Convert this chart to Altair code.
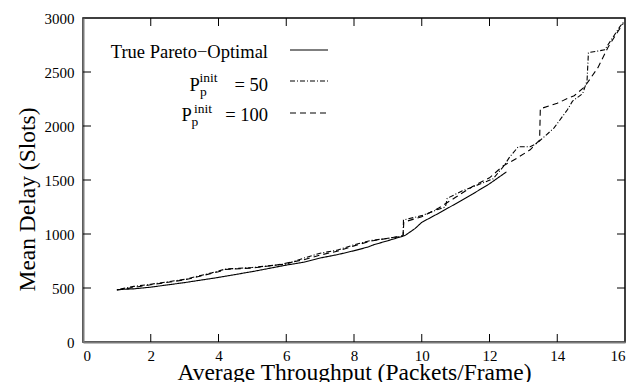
import altair as alt
import pandas as pd

# ---- data ----
series_names = ["True Pareto-Optimal", "P50", "P100"]

x_true = [1.0, 1.5, 2.0, 3.0, 4.0, 5.0, 6.0, 6.5, 7.0, 7.5, 8.0, 8.4, 8.6, 9.0,
          9.5, 9.8, 10.0, 10.5, 11.0, 11.5, 12.0, 12.5]
y_true = [485, 492, 508, 550, 598, 652, 712, 738, 778, 808, 845, 878, 902, 938,
          985, 1050, 1108, 1192, 1280, 1370, 1465, 1575]

x_p50 = [1.1, 1.5, 2.0, 3.0, 3.8, 4.2, 5.0, 6.0, 6.5, 7.0, 7.5, 8.0, 8.5, 9.0,
         9.45, 9.46, 10.0, 10.5, 10.7, 10.75, 11.2, 11.7, 12.1, 12.4, 12.6, 12.85,
         13.2, 13.4, 13.9, 14.3, 14.45, 14.75, 14.88, 14.92, 15.4, 15.85, 15.95]
y_p50 = [490, 515, 535, 580, 640, 675, 690, 722, 775, 822, 850, 900, 940, 960,
         980, 1130, 1170, 1230, 1250, 1330, 1400, 1460, 1510, 1620, 1715, 1808,
         1808, 1840, 1980, 2150, 2230, 2300, 2420, 2680, 2705, 2920, 2960]

x_p100 = [1.0, 1.5, 2.0, 3.0, 4.0, 4.2, 5.0, 5.7, 6.5, 7.0, 7.5, 8.0, 8.5, 9.0,
          9.45, 9.47, 10.0, 10.5, 11.0, 11.5, 12.0, 12.4, 12.8, 13.2, 13.48, 13.5,
          14.0, 14.3, 14.5, 14.8, 15.2, 15.5, 15.8, 15.95]
y_p100 = [480, 505, 530, 575, 650, 672, 685, 712, 760, 805, 840, 890, 935, 960,
          985, 1110, 1160, 1240, 1340, 1440, 1520, 1630, 1700, 1780, 1870, 2160,
          2210, 2255, 2280, 2360, 2540, 2730, 2880, 2950]

x_ticks = [0, 2, 4, 6, 8, 10, 12, 14, 16]
y_ticks = [0, 500, 1000, 1500, 2000, 2500, 3000]

rows = []
for name, xs_, ys_ in [(series_names[0], x_true, y_true),
                       (series_names[1], x_p50, y_p50),
                       (series_names[2], x_p100, y_p100)]:
    for i, (a, b) in enumerate(zip(xs_, ys_)):
        rows.append({"series": name, "x": a, "y": b, "i": i})
df = pd.DataFrame(rows)

W, H = 542, 324
FONT = "Liberation Serif"
AX = "#7a7a7a"

xs = alt.Scale(domain=[0, 16], nice=False, zero=False)
ys = alt.Scale(domain=[0, 3000], nice=False)
dash_range = [[1, 0], [5, 2, 1, 2], [6, 4]]

x_axis = alt.Axis(
    values=x_ticks, format="d", labelPadding=6,
    title="Average Throughput (Packets/Frame)", titleY=37)
y_axis = alt.Axis(
    values=y_ticks, format="d", labelPadding=9,
    title="Mean Delay (Slots)", titleX=-49, titleY=181)

lines = alt.Chart(df).mark_line(color="black", strokeWidth=1.1).encode(
    x=alt.X("x:Q", scale=xs, axis=x_axis),
    y=alt.Y("y:Q", scale=ys, axis=y_axis),
    strokeDash=alt.StrokeDash("series:N", scale=alt.Scale(domain=series_names, range=dash_range),
                              legend=None),
    detail="series:N",
    order="i:Q",
)

xt = pd.DataFrame({"v": x_ticks[1:-1]})
yt = pd.DataFrame({"v": y_ticks[1:-1]})
tick_x_bottom = alt.Chart(xt).mark_rule(color="black").encode(
    x=alt.X("v:Q", scale=xs, axis=x_axis), y=alt.value(H), y2=alt.value(H - 8))
tick_x_top = alt.Chart(xt).mark_rule(color="black").encode(
    x=alt.X("v:Q", scale=xs, axis=x_axis), y=alt.value(0), y2=alt.value(8))
tick_y_left = alt.Chart(yt).mark_rule(color="black").encode(
    y=alt.Y("v:Q", scale=ys, axis=y_axis), x=alt.value(0), x2=alt.value(8))
tick_y_right = alt.Chart(yt).mark_rule(color="black").encode(
    y=alt.Y("v:Q", scale=ys, axis=y_axis), x=alt.value(W - 8), x2=alt.value(W))

one = pd.DataFrame({"a": [0]})


def txt(s, x, y, size=18.5, align="left"):
    return alt.Chart(one).mark_text(text=s, font=FONT, fontSize=size, align=align,
                                    baseline="alphabetic", color="black").encode(
        x=alt.value(x), y=alt.value(y))


def sample(y, dash):
    return alt.Chart(one).mark_rule(color="black", strokeWidth=1.1, strokeDash=dash).encode(
        x=alt.value(207), x2=alt.value(245), y=alt.value(y))


legend = [
    txt("True Pareto\u2212Optimal", 185, 39.5, align="right"),
    sample(32, dash_range[0]),
    txt("P", 106.5, 72.5), txt("p", 117, 77.5, size=13.5), txt("init", 116.5, 63.5, size=13.5),
    txt("= 50", 185, 72.5, align="right"),
    sample(63, dash_range[1]),
    txt("P", 98.5, 102.5), txt("p", 108.5, 107.5, size=13.5), txt("init", 111, 95, size=13.5),
    txt("= 100", 185, 102.5, align="right"),
    sample(95, dash_range[2]),
]

chart = alt.layer(lines, tick_x_bottom, tick_x_top, tick_y_left, tick_y_right, *legend).properties(
    width=W, height=H,
    background="white",
    autosize=alt.AutoSizeParams(type="none"),
    padding={"left": 83, "top": 18, "right": 10, "bottom": 40},
).configure_view(stroke="black", strokeWidth=1.5).configure_axis(
    ticks=False, grid=False, domainColor=AX, domainWidth=2,
    labelFont=FONT, labelFontSize=15, labelColor="black",
    titleFont=FONT, titleFontSize=23.5, titleFontWeight="normal", titleColor="black",
    titleBaseline="alphabetic",
)

chart.save("out.html", embed_options={"renderer": "svg", "actions": False})
